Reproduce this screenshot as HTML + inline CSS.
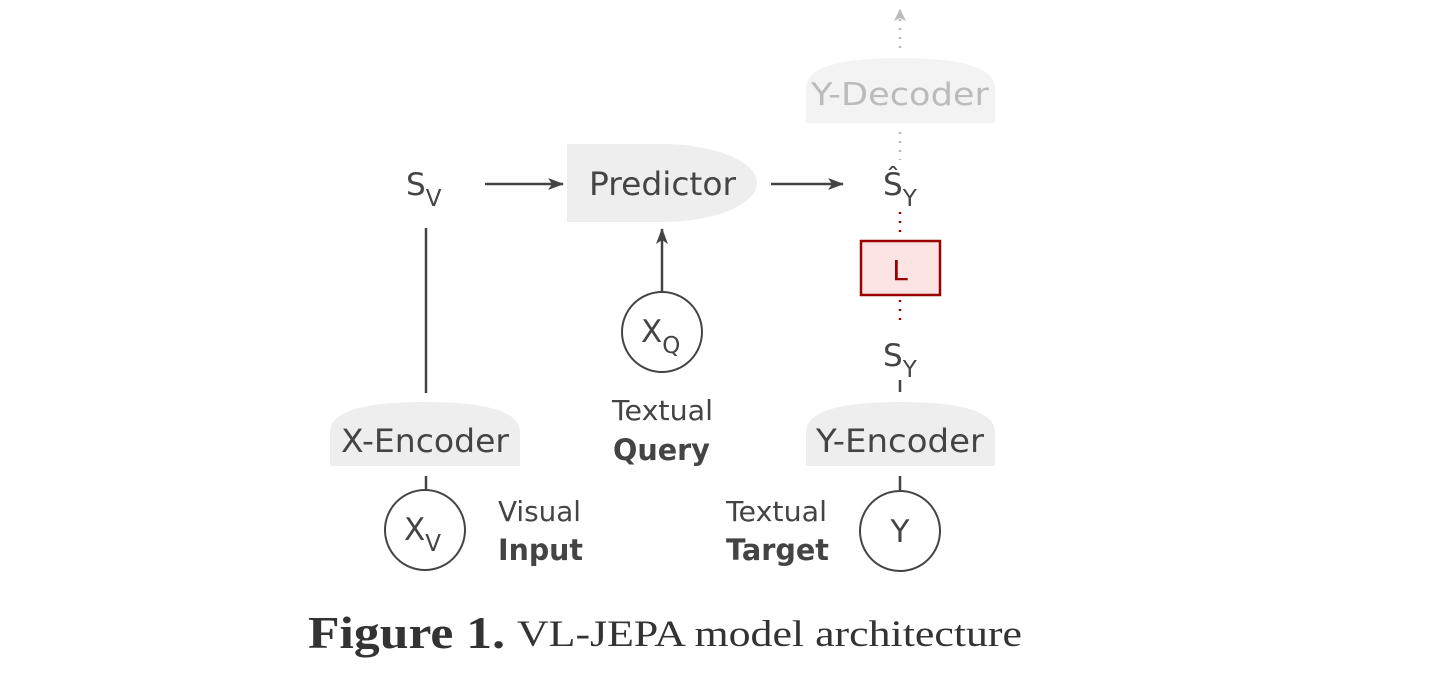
<!DOCTYPE html>
<html><head><meta charset="utf-8"><style>
html,body{margin:0;padding:0;background:#fff;}
svg{display:block;}
.t{font-family:"DejaVu Sans","Liberation Sans",sans-serif;fill:#444;}
.s{font-family:"Liberation Serif",serif;fill:#333;}
</style></head><body>
<svg width="1456" height="677" viewBox="0 0 1456 677" xmlns="http://www.w3.org/2000/svg">
<defs>
<marker id="ah" viewBox="0 0 16 12" refX="15" refY="6" markerWidth="16" markerHeight="12" markerUnits="userSpaceOnUse" orient="auto">
<path d="M0,0 L16,6 L0,12 L4,6 Z" fill="#444"/></marker>
<marker id="ahg" viewBox="0 0 12 12" refX="11" refY="6" markerWidth="12" markerHeight="12" markerUnits="userSpaceOnUse" orient="auto">
<path d="M0,0 L12,6 L0,12 L3,6 Z" fill="#bbb"/></marker>
</defs>
<path d="M806,123 L806,88 Q806,58 900,58 Q995,58 995,88 L995,123 Z" fill="#f3f3f3"/>
<text class="t" x="900" y="105" font-size="31" text-anchor="middle" style="fill:#bbb" textLength="178" lengthAdjust="spacingAndGlyphs">Y-Decoder</text>
<line x1="900" y1="48" x2="900" y2="10" stroke="#bbb" stroke-width="2.5" stroke-dasharray="2,7" marker-end="url(#ahg)"/>
<line x1="900" y1="132" x2="900" y2="160" stroke="#bbb" stroke-width="2.5" stroke-dasharray="2,7"/>
<path d="M567,144 L662,144 A95,39 0 0 1 662,222 L567,222 Z" fill="#eeeeee"/>
<text class="t" x="589" y="195" font-size="32" textLength="147" lengthAdjust="spacingAndGlyphs">Predictor</text>
<text class="t" x="406" y="195" font-size="31">S<tspan font-size="23" dy="11">V</tspan></text>
<line x1="485" y1="184" x2="563" y2="184" stroke="#444" stroke-width="2.5" marker-end="url(#ah)"/>
<line x1="771" y1="184" x2="843" y2="184" stroke="#444" stroke-width="2.5" marker-end="url(#ah)"/>
<text class="t" x="883" y="195" font-size="31">Ŝ<tspan font-size="23" dy="11">Y</tspan></text>
<line x1="900" y1="212" x2="900" y2="238" stroke="#990000" stroke-width="2.5" stroke-dasharray="2,7"/>
<rect x="861" y="241" width="79" height="54" fill="#fde4e4" stroke="#990000" stroke-width="2.5"/>
<text class="t" x="900" y="280" font-size="28" text-anchor="middle" style="fill:#990000">L</text>
<line x1="900" y1="300" x2="900" y2="326" stroke="#990000" stroke-width="2.5" stroke-dasharray="2,7"/>
<text class="t" x="883" y="366" font-size="31">S<tspan font-size="23" dy="11">Y</tspan></text>
<line x1="900" y1="380" x2="900" y2="392" stroke="#444" stroke-width="2.5"/>
<line x1="426" y1="228" x2="426" y2="393" stroke="#444" stroke-width="2.5"/>
<line x1="662" y1="292" x2="662" y2="229" stroke="#444" stroke-width="2.5" marker-end="url(#ah)"/>
<circle cx="662" cy="332" r="40" fill="#fff" stroke="#444" stroke-width="2"/>
<text class="t" x="641" y="342" font-size="31">X<tspan font-size="23" dy="11">Q</tspan></text>
<text class="t" x="612" y="420" font-size="28" textLength="101" lengthAdjust="spacingAndGlyphs">Textual</text>
<text class="t" x="613" y="460" font-size="29" font-weight="bold" textLength="97" lengthAdjust="spacingAndGlyphs">Query</text>
<path d="M330,466 L330,432 Q330,402 425,402 Q520,402 520,432 L520,466 Z" fill="#eeeeee"/>
<text class="t" x="341" y="452" font-size="32" textLength="168" lengthAdjust="spacingAndGlyphs">X-Encoder</text>
<line x1="426" y1="476" x2="426" y2="489" stroke="#444" stroke-width="2.5"/>
<circle cx="425" cy="530" r="40" fill="#fff" stroke="#444" stroke-width="2"/>
<text class="t" x="404" y="540" font-size="31">X<tspan font-size="23" dy="11">V</tspan></text>
<text class="t" x="498" y="521" font-size="28" textLength="83" lengthAdjust="spacingAndGlyphs">Visual</text>
<text class="t" x="498" y="560" font-size="29" font-weight="bold" textLength="85" lengthAdjust="spacingAndGlyphs">Input</text>
<path d="M806,466 L806,432 Q806,402 900,402 Q995,402 995,432 L995,466 Z" fill="#eeeeee"/>
<text class="t" x="816" y="452" font-size="32" textLength="168" lengthAdjust="spacingAndGlyphs">Y-Encoder</text>
<line x1="900" y1="476" x2="900" y2="490" stroke="#444" stroke-width="2.5"/>
<circle cx="900" cy="531" r="40" fill="#fff" stroke="#444" stroke-width="2"/>
<text class="t" x="900" y="542" font-size="31" text-anchor="middle">Y</text>
<text class="t" x="726" y="521" font-size="28" textLength="101" lengthAdjust="spacingAndGlyphs">Textual</text>
<text class="t" x="726" y="560" font-size="29" font-weight="bold" textLength="103" lengthAdjust="spacingAndGlyphs">Target</text>
<text class="s" x="308" y="648" font-size="46" font-weight="bold" textLength="197" lengthAdjust="spacingAndGlyphs">Figure 1.</text>
<text class="s" x="517" y="646" font-size="37" textLength="505" lengthAdjust="spacingAndGlyphs">VL-JEPA model architecture</text>
</svg>
</body></html>
